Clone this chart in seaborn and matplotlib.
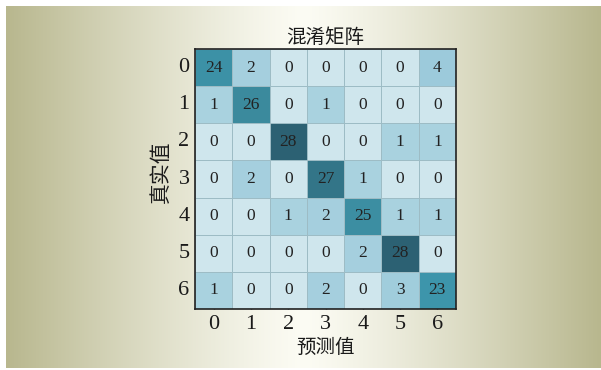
import numpy as np
import pandas as pd
import matplotlib
matplotlib.use("Agg")
import matplotlib.pyplot as plt
from matplotlib.colors import LinearSegmentedColormap
import seaborn as sns

# Confusion matrix of a 7-class classifier (rows: true, cols: predicted)
classes = ["0", "1", "2", "3", "4", "5", "6"]
row0 = [24, 2, 0, 0, 0, 0, 4]
row1 = [1, 26, 0, 1, 0, 0, 0]
row2 = [0, 0, 28, 0, 0, 1, 1]
row3 = [0, 2, 0, 27, 1, 0, 0]
row4 = [0, 0, 1, 2, 25, 1, 1]
row5 = [0, 0, 0, 0, 2, 28, 0]
row6 = [1, 0, 0, 2, 0, 3, 23]

cm = pd.DataFrame([row0, row1, row2, row3, row4, row5, row6],
                  index=classes, columns=classes)

sns.set_theme(style="white")
fam = ["Liberation Serif", "Noto Sans CJK SC", "DejaVu Sans"]
plt.rcParams["font.family"] = fam

W, H = 601, 370
fig = plt.figure(figsize=(W / 100, H / 100), dpi=100)
fig.patch.set_facecolor("white")

# horizontal olive-to-cream gradient panel
bg = fig.add_axes([6 / W, 2 / H, 595 / W, 362 / H])
xs = np.linspace(0, 1, 400)
prof = np.clip(np.abs(xs - 0.5) / 0.5, 0, 1) ** 1.2
c_edge = np.array([184, 183, 142]) / 255
c_mid = np.array([252, 252, 244]) / 255
grad = c_mid[None, :] * (1 - prof[:, None]) + c_edge[None, :] * prof[:, None]
bg.imshow(grad[None, :, :], aspect="auto", extent=[0, 1, 0, 1])
bg.set_axis_off()

cmap = LinearSegmentedColormap.from_list(
    "cm_blue",
    [(0.0, "#cfe6ed"), (1 / 28, "#a9d2df"), (4 / 28, "#9ccadb"),
     (23 / 28, "#3d95ab"), (26 / 28, "#3b8a9e"), (1.0, "#2c6173")])

ax = fig.add_axes([195 / W, 1 - 309 / H, 261 / W, 260 / H])
sns.heatmap(cm, ax=ax, cmap=cmap, vmin=0, vmax=28, cbar=False,
            annot=True, fmt="d", linewidths=0.6, linecolor="#9dbcc5",
            annot_kws={"fontsize": 12.5, "color": "#222222", "family": fam})

for s in ax.spines.values():
    s.set_visible(True)
    s.set_color("#222222")
    s.set_linewidth(1.2)

ax.tick_params(axis="both", direction="in", length=3, width=1,
               color="#333333", labelsize=16, labelcolor="#1a1a1a",
               bottom=True, left=True, pad=4)
ax.set_xticklabels(classes, rotation=0, family=fam)
ax.set_yticklabels(classes, rotation=0, family=fam)

ax.set_title("混淆矩阵", fontsize=14, color="#1a1a1a", pad=4, family=fam)
ax.set_xlabel("预测值", fontsize=14, color="#1a1a1a", labelpad=4, family=fam)
ax.set_ylabel("真实值", fontsize=15, color="#1a1a1a", family=fam)
ax.yaxis.set_label_coords(-0.09, 0.53)

fig.savefig("out.png", dpi=100)
